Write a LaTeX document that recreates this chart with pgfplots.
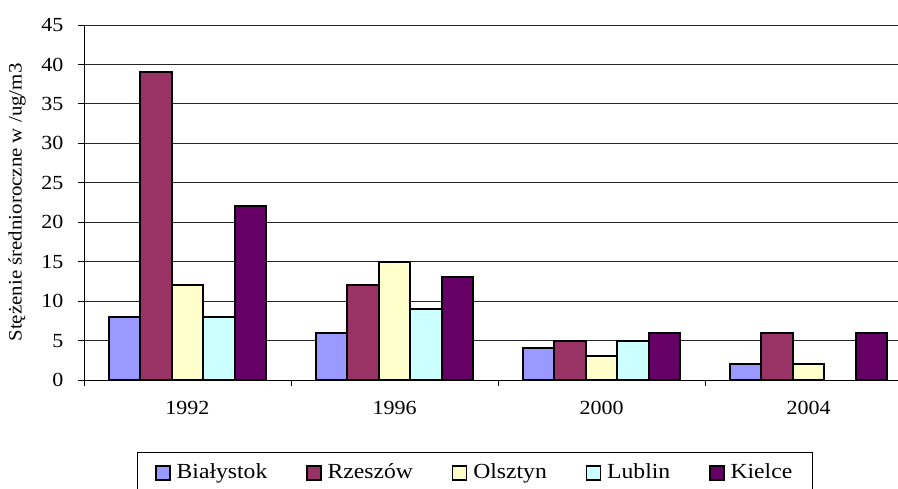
\documentclass[border=0pt]{standalone}
\usepackage{fontspec}
\setmainfont{Liberation Serif}[FakeStretch=1.1]
\usepackage{pgfplots}
\pgfplotsset{compat=1.18}
\definecolor{cBia}{HTML}{9999FF}
\definecolor{cRze}{HTML}{993366}
\definecolor{cOls}{HTML}{FFFFCC}
\definecolor{cLub}{HTML}{CCFFFF}
\definecolor{cKie}{HTML}{660066}
\begin{document}
\begin{tikzpicture}
\path[use as bounding box] (-84pt,-108pt) rectangle (814pt,380pt);
\clip (-84pt,-108pt) rectangle (814pt,380pt);
\begin{axis}[
  at={(0pt,0pt)}, anchor=south west,
  scale only axis, width=828pt, height=355pt,
  xmin=-0.5, xmax=3.5, ymin=0, ymax=45,
  axis x line*=bottom, axis y line*=left,
  axis line style={black, line width=0.9pt},
  ybar=0pt, bar width=31.5pt,
  xtick={0,1,2,3}, xticklabels={1992,1996,2000,2004},
  minor xtick={-0.5,0.5,1.5,2.5},
  ytick={0,5,...,45}, yticklabels={0,5,10,15,20,25,30,35,40,45},
  tick align=outside,
  major tick length=6pt, minor tick length=6pt,
  tick style={black, line width=0.8pt},
  major x tick style={draw=none},
  ymajorgrids,
  grid style={black!85, line width=0.8pt},
  tick label style={font=\fontsize{20}{24}\selectfont},
  yticklabel style={xshift=-11pt},
  xticklabel style={yshift=-12pt},
  ylabel={Stężenie średnioroczne w /ug/m3},
  every axis y label/.style={at={(axis description cs:-0.0809,0.5)}, rotate=90, anchor=center, font=\fontsize{19}{22}\selectfont},
  every axis plot post/.append style={legend image code/.code={\draw[##1,line width=1.3pt] (0pt,-1pt) rectangle (14pt,13pt);}},
  legend columns=5,
  legend style={at={(rel axis cs:0.064,-0.2028)}, anchor=north west, draw=black, line width=0.8pt,
    font=\fontsize{21.5}{24}\selectfont, inner xsep=18pt, inner ysep=9pt,
    nodes={inner xsep=2pt, text depth=16pt},
    /tikz/every odd column/.append style={column sep=4pt},
    /tikz/every even column/.append style={column sep=37pt}},
]
\addplot[fill=cBia, draw=black, line width=2pt] coordinates {(0,8) (1,6) (2,4) (3,2)};
\addplot[fill=cRze, draw=black, line width=2pt] coordinates {(0,39) (1,12) (2,5) (3,6)};
\addplot[fill=cOls, draw=black, line width=2pt] coordinates {(0,12) (1,15) (2,3) (3,2)};
\addplot[fill=cLub, draw=black, line width=2pt] coordinates {(0,8) (1,9) (2,5)};
\addplot[fill=cKie, draw=black, line width=2pt] coordinates {(0,22) (1,13) (2,6) (3,6)};
\legend{Białystok, Rzeszów, Olsztyn, Lublin, Kielce}
\end{axis}
\end{tikzpicture}
\end{document}
